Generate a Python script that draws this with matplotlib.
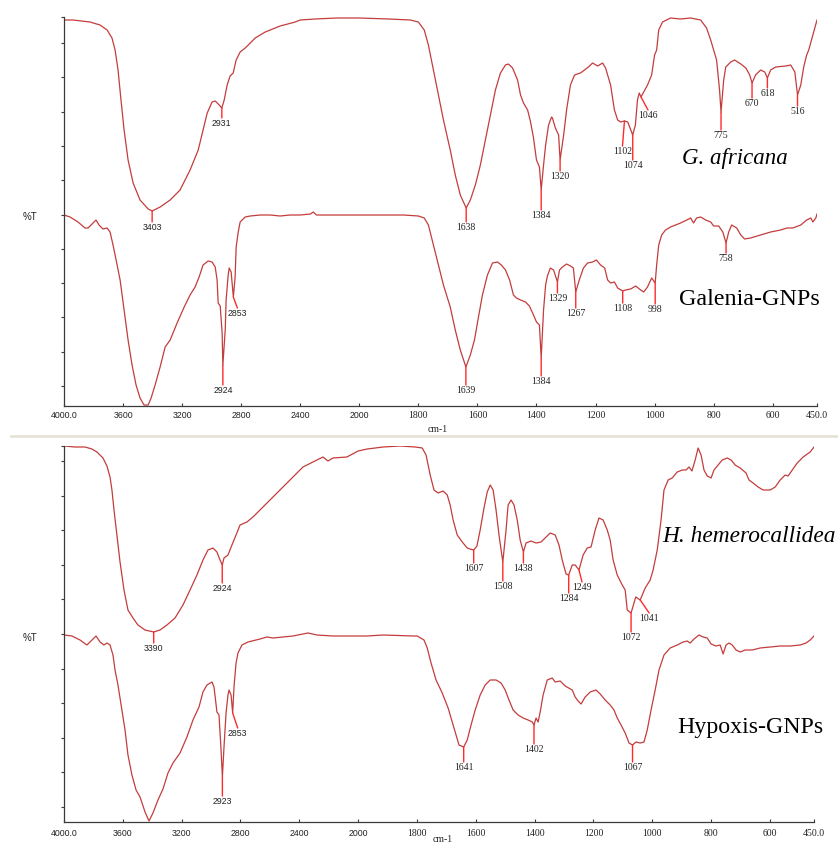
import numpy as np
import matplotlib
matplotlib.use("Agg")
import matplotlib.pyplot as plt
from matplotlib.lines import Line2D

# FTIR spectra: (wavenumber cm-1, %T in arbitrary panel units)
g_africana = [(4000,386),(3939,386),(3824,384),(3756,381),(3708,376),(3675,368),(3654,356),(3634,336),
    (3614,306),(3593,276),(3566,246),(3532,223),(3485,206),(3430,197),(3403,195),(3349,199),(3281,206),
    (3214,216),(3146,236),(3091,256),(3058,276),(3030,293),(2997,304),(2976,305),(2949,301),(2931,298),
    (2915,306),(2895,321),(2875,330),(2854,333),(2834,346),(2807,354),(2773,358),(2752,361),(2705,368),
    (2637,374),(2536,380),(2434,384),(2400,386),(2300,387),(2150,388),(2000,388),(1900,387),(1827,386),
    (1800,384),(1780,376),(1766,361),(1749,336),(1732,311),(1715,286),(1692,256),(1675,231),(1658,211),
    (1638,198),(1624,206),(1607,221),(1590,241),(1573,266),(1556,291),(1539,316),(1522,333),(1505,341),
    (1495,342),(1481,338),(1464,326),(1454,311),(1444,303),(1430,296),(1420,284),(1410,268),(1400,246),
    (1390,239),(1384,216),(1376,241),(1369,261),(1359,281),(1349,289),(1346,288),(1336,278),(1325,271),
    (1320,246),(1308,271),(1298,296),(1285,321),(1271,331),(1251,333),(1224,339),(1210,343),(1193,340),
    (1176,343),(1166,338),(1149,321),(1136,296),(1125,286),(1115,284),(1102,285),(1091,284),(1074,271),
    (1065,281),(1058,306),(1052,313),(1046,309),(1024,321),(1010,331),(1000,351),(993,356),(986,376),
    (973,384),(946,388),(912,387),(878,388),(844,386),(824,378),(810,366),(800,356),(790,346),(780,316),
    (775,294),(766,326),(759,339),(742,344),(729,346),(708,342),(691,338),(678,331),(670,323),(658,331),
    (641,336),(627,334),(618,328),(607,336),(590,339),(556,340),(539,341),(525,334),(516,311),(505,321),
    (495,339),(485,351),(478,356),(464,371),(450,386)]

galenia_gnps = [(4000,191),(3959,189),(3905,184),(3858,178),(3837,178),(3810,182),(3783,186),(3763,181),
    (3736,177),(3708,178),(3688,174),(3668,161),(3647,146),(3620,126),(3593,96),(3566,66),(3539,41),
    (3512,21),(3485,8),(3458,1),(3430,1),(3410,8),(3383,21),(3349,39),(3315,59),(3281,66),(3234,83),
    (3186,99),(3146,111),(3112,119),(3085,129),(3058,141),(3024,145),(2997,144),(2976,139),(2963,126),
    (2956,103),(2942,100),(2929,73),(2924,41),(2908,76),(2902,106),(2888,131),(2881,138),(2868,134),
    (2853,109),(2841,129),(2834,159),(2820,174),(2807,184),(2773,189),(2739,190),(2671,191),(2603,191),
    (2536,190),(2468,191),(2400,191),(2330,192),(2312,194),(2290,191),(2200,191),(2000,191),(1850,191),
    (1800,190),(1780,188),(1766,181),(1749,161),(1732,141),(1715,121),(1692,99),(1675,76),(1658,56),
    (1639,39),(1624,51),(1610,66),(1597,88),(1583,111),(1566,131),(1549,143),(1532,144),(1519,141),
    (1505,136),(1491,126),(1478,111),(1468,108),(1454,106),(1437,104),(1424,100),(1410,91),(1400,84),
    (1390,81),(1384,48),(1376,96),(1369,121),(1363,130),(1353,138),(1342,136),(1329,124),(1322,136),
    (1312,139),(1298,142),(1285,140),(1275,138),(1271,126),(1267,114),(1255,126),(1241,138),(1227,143),
    (1210,144),(1197,146),(1183,141),(1169,138),(1159,126),(1149,123),(1136,124),(1125,118),(1108,115),
    (1098,116),(1081,117),(1064,120),(1047,116),(1037,114),(1024,119),(1010,128),(998,123),(993,141),
    (986,161),(976,171),(963,176),(946,179),(929,181),(912,183),(891,186),(878,188),(868,183),(858,188),
    (844,189),(827,186),(810,184),(800,180),(783,180),(769,174),(758,163),(749,174),(739,181),(722,178),
    (708,171),(695,167),(675,168),(641,171),(607,174),(573,176),(552,178),(532,178),(505,181),(485,186),
    (471,188),(464,184),(454,188),(450,192)]

h_hemerocallidea = [(4000,376),(3925,375),(3857,375),(3810,373),(3776,370),(3735,364),(3708,356),
    (3687,345),(3674,332),(3660,312),(3640,287),(3619,260),(3592,232),(3565,212),(3531,204),(3497,197),
    (3449,192),(3390,190),(3347,192),(3300,197),(3245,204),(3191,217),(3143,232),(3096,247),(3055,262),
    (3021,272),(2987,274),(2960,270),(2939,262),(2924,257),(2912,264),(2885,267),(2858,277),(2830,287),
    (2803,297),(2756,300),(2715,305),(2620,319),(2531,332),(2443,345),(2375,355),(2307,360),(2239,365),
    (2205,361),(2171,364),(2076,365),(2000,371),(1969,373),(1915,375),(1857,376),(1806,375),(1782,374),
    (1769,367),(1755,347),(1742,332),(1728,329),(1711,331),(1697,327),(1687,317),(1677,302),(1663,287),
    (1646,280),(1629,274),(1620,273),(1607,272),(1596,276),(1585,292),(1572,314),(1561,330),(1551,337),
    (1541,332),(1531,312),(1521,287),(1508,260),(1497,292),(1490,317),(1480,322),(1470,317),(1459,302),
    (1449,282),(1438,270),(1429,279),(1412,281),(1395,279),(1378,280),(1361,285),(1347,289),(1330,287),
    (1317,277),(1306,262),(1293,248),(1284,247),(1272,257),(1262,257),(1249,252),(1235,267),(1221,274),
    (1208,275),(1194,292),(1181,304),(1167,302),(1153,292),(1143,282),(1133,262),(1119,247),(1102,237),
    (1092,232),(1085,212),(1072,209),(1063,218),(1056,225),(1041,222),(1024,234),(1007,242),(997,252),
    (983,272),(970,302),(960,332),(946,342),(932,344),(915,350),(898,352),(885,352),(875,355),(865,351),
    (854,362),(844,374),(834,367),(824,352),(813,346),(800,344),(790,352),(776,357),(762,362),(745,364),
    (732,362),(718,357),(701,354),(681,349),(671,342),(657,339),(640,335),(623,332),(599,332),(582,335),
    (565,342),(548,347),(538,346),(524,352),(507,359),(487,365),(463,370),(450,375)]

hypoxis_gnps = [(4000,187),(3946,186),(3891,182),(3844,177),(3810,182),(3782,186),(3755,180),(3728,177),
    (3708,179),(3687,177),(3667,167),(3653,152),(3633,137),(3612,117),(3585,92),(3565,67),(3538,47),
    (3510,32),(3483,25),(3449,10),(3422,1),(3395,9),(3361,22),(3327,33),(3293,49),(3259,59),(3211,69),
    (3164,85),(3123,102),(3082,115),(3055,130),(3028,137),(2994,140),(2980,135),(2960,110),(2946,107),
    (2932,72),(2923,45),(2912,75),(2898,109),(2885,127),(2878,132),(2864,127),(2853,109),(2844,135),
    (2830,159),(2817,169),(2790,177),(2749,180),(2667,183),(2620,185),(2579,184),(2511,185),(2443,186),
    (2341,189),(2280,187),(2171,186),(1969,186),(1915,187),(1813,186),(1799,186),(1776,182),(1765,174),
    (1752,159),(1735,142),(1714,129),(1694,114),(1674,94),(1657,77),(1641,75),(1629,82),(1616,97),
    (1602,112),(1585,127),(1568,137),(1551,142),(1531,142),(1514,139),(1500,132),(1487,122),(1473,112),
    (1456,107),(1439,104),(1422,102),(1408,100),(1402,97),(1395,104),(1388,100),(1381,110),(1371,127),
    (1357,142),(1340,144),(1330,140),(1313,141),(1296,136),(1272,132),(1262,125),(1252,121),(1242,118),
    (1228,125),(1211,130),(1191,132),(1177,128),(1160,122),(1143,117),(1130,112),(1119,104),(1106,97),
    (1092,89),(1079,79),(1067,77),(1055,80),(1041,79),(1028,80),(1017,92),(1004,112),(990,132),(977,152),
    (960,167),(939,174),(915,177),(895,180),(881,181),(871,179),(858,183),(841,187),(827,185),(813,184),
    (800,178),(783,176),(769,177),(759,168),(749,177),(739,179),(728,177),(715,172),(701,170),(684,172),
    (660,172),(633,174),(599,175),(565,176),(531,176),(497,177),(477,179),(463,182),(450,186)]

# peak labels: (label, horizontal shift px, line length px)
peaks_ga = [("3403",0,11),("2931",0,10),("1638",0,14),("1384",0,20),("1320",0,11),("1102",-2,25),
            ("1074",0,25),("1046",7,13),("775",0,18),("670",0,15),("618",0,10),("516",0,11)]
peaks_gal = [("2924",0,20),("2853",4,11),("1639",0,18),("1384",0,18),("1329",0,11),("1267",0,16),
             ("1108",0,12),("998",0,21),("758",0,10)]
peaks_hh = [("3390",0,11),("2924",0,18),("1607",0,13),("1508",0,19),("1438",0,11),("1284",0,18),
            ("1249",3,12),("1072",0,19),("1041",9,13)]
peaks_hyp = [("2923",0,19),("2853",5,15),("1641",0,15),("1402",0,19),("1067",0,17)]

xticks = [4000, 3600, 3200, 2800, 2400, 2000, 1800, 1600, 1400, 1200, 1000, 800, 600, 450]
xlabels = ["4000.0", "3600", "3200", "2800", "2400", "2000", "1800", "1600", "1400", "1200",
           "1000", "800", "600", "450.0"]

curve_col = "#c43c3c"
mark_col = "#ff2a2a"
SANS = "Liberation Sans"
SERIF = "Liberation Serif"


def fwd(x):
    x = np.asarray(x, dtype=float)
    return np.where(x > 2000, 2000 + (x - 2000) / 2, x)


def inv(u):
    u = np.asarray(u, dtype=float)
    return np.where(u > 2000, 2000 + (u - 2000) * 2, u)


def fam(w):
    return SANS if w >= 2000 else SERIF


def setup(ax, ymax, yticks, pad):
    ax.set_xscale("function", functions=(fwd, inv))
    ax.set_xlim(4000, 450)
    ax.set_ylim(0, ymax)
    ax.spines["top"].set_visible(False)
    ax.spines["right"].set_visible(False)
    for s in ("left", "bottom"):
        ax.spines[s].set_color("#3a3a3a")
        ax.spines[s].set_linewidth(0.9)
    ax.set_yticks(yticks)
    ax.tick_params(axis="y", direction="out", length=2.5, width=0.8, color="#3a3a3a", labelleft=False)
    ax.set_xticks(xticks, xlabels)
    ax.minorticks_off()
    ax.tick_params(axis="x", direction="in", length=2.5, width=0.8, color="#3a3a3a", pad=pad)
    for lab, w in zip(ax.get_xticklabels(), xticks):
        lab.set_fontfamily(fam(w))
        lab.set_fontsize(6.3 if w >= 2000 else 7)
        lab.set_color("#222222")


def spectrum(ax, data, peaks):
    wn = np.array([p[0] for p in data], dtype=float)
    t = np.array([p[1] for p in data], dtype=float)
    ax.plot(wn, t, color=curve_col, lw=0.9)
    for lab, dx, dy in peaks:
        w = float(lab)
        y = np.interp(w, wn[::-1], t[::-1])
        ax.annotate("", xy=(w, y), xytext=(dx, -dy), textcoords="offset pixels",
                    arrowprops=dict(arrowstyle="-", color=mark_col, lw=1, shrinkA=0, shrinkB=0))
        ax.annotate(lab, xy=(w, y), xytext=(dx, -dy - 1), textcoords="offset pixels",
                    ha="center", va="top", fontsize=6.3 if w >= 2000 else 7,
                    family=fam(w), color="#222222")


fig = plt.figure(figsize=(8.38, 8.44), dpi=100)
W, H = 838, 844

ax1 = fig.add_axes([64 / W, 1 - 406 / H, 753 / W, 389 / H])
setup(ax1, 389, list(np.linspace(20, 363, 11)) + [389], 3.5)
spectrum(ax1, g_africana, peaks_ga)
spectrum(ax1, galenia_gnps, peaks_gal)
ax1.text(0.891, 0.6375, "G. africana", transform=ax1.transAxes, ha="center", va="center",
         family=SERIF, style="italic", fontsize=16.5)
ax1.text(0.910, 0.2725, "Galenia-GNPs", transform=ax1.transAxes, ha="center", va="center",
         family=SERIF, fontsize=17.3)

ax2 = fig.add_axes([64 / W, 1 - 822 / H, 750 / W, 376 / H])
setup(ax2, 376, list(np.linspace(15, 361, 11)) + [376], 5)
spectrum(ax2, h_hemerocallidea, peaks_hh)
spectrum(ax2, hypoxis_gnps, peaks_hyp)
ax2.text(0.913, 0.758, "H. hemerocallidea", transform=ax2.transAxes, ha="center", va="center",
         family=SERIF, style="italic", fontsize=16.8, clip_on=False)
ax2.text(0.915, 0.25, "Hypoxis-GNPs", transform=ax2.transAxes, ha="center", va="center",
         family=SERIF, fontsize=17.2)

# axis captions
fig.text(30 / W, 1 - 217 / H, "%T", ha="center", va="center", family=SANS, fontsize=7, color="#222222")
fig.text(30 / W, 1 - 638 / H, "%T", ha="center", va="center", family=SANS, fontsize=7, color="#222222")
fig.text(438 / W, 1 - 430 / H, "cm-1", ha="center", va="center", family=SERIF, fontsize=7, color="#222222")
fig.text(443 / W, 1 - 839 / H, "cm-1", ha="center", va="center", family=SERIF, fontsize=7, color="#222222")

# separator between the two screenshots
fig.add_artist(Line2D([11 / W, 1], [1 - 436 / H, 1 - 436 / H], transform=fig.transFigure,
                      color="#e4e0d4", lw=1.8))

fig.savefig("out.png", dpi=100)
